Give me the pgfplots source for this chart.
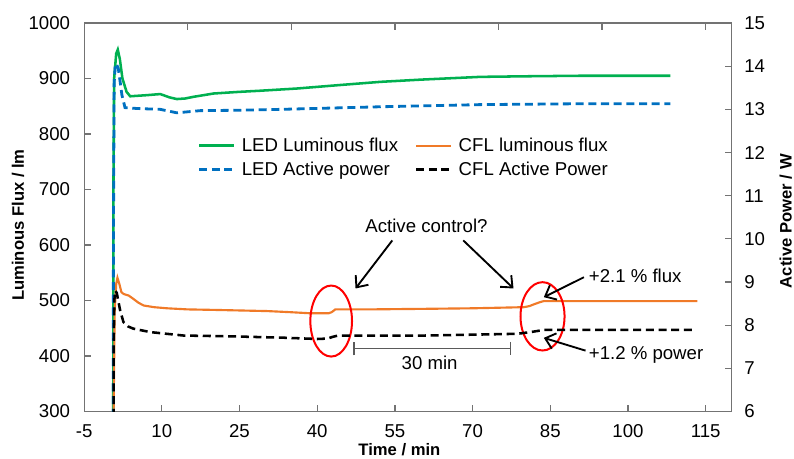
\documentclass[border=0pt]{standalone}
\usepackage{fontspec}
\setmainfont{Liberation Sans}
\usepackage{pgfplots}
\pgfplotsset{compat=1.18}
\usetikzlibrary{arrows.meta}

\definecolor{ledgreen}{RGB}{0,176,80}
\definecolor{ledblue}{RGB}{0,112,192}
\definecolor{cflorange}{RGB}{240,122,40}
\definecolor{axisgray}{RGB}{115,115,115}
\definecolor{barGray}{RGB}{90,90,90}

\tikzset{note arrow/.style={line width=1.4bp, -{Straight Barb[length=7bp,width=12bp]}}}

\pgfplotsset{
  every axis/.append style={
    scale only axis, width=485bp, height=291bp,
    xmin=-5, xmax=120,
    font=\fontsize{14}{16}\selectfont,
    /pgf/number format/assume math mode=true,
    /pgf/number format/1000 sep={},
    axis line style={axisgray, line width=0.9bp},
    tick style={axisgray, line width=0.9bp},
    major tick length=5bp,
    tick align=inside,
    label style={font=\fontsize{12.5}{15}\selectfont\bfseries},
  },
}

\begin{document}
\begin{tikzpicture}
\useasboundingbox (-63bp,-35.25bp) rectangle (531.75bp,308.25bp);

% luminous flux (left axis)
\begin{axis}[
  ymin=300, ymax=1000, ytick={300,400,...,1000},
  xtick={-5,10,...,115},
  xtick pos=left, ytick pos=left,
  yticklabel style={xshift=-7bp},
  xticklabel style={yshift=-6bp},
  xlabel={Time / min},
  ylabel={Luminous Flux / lm},
  xlabel style={at={(axis description cs:0.487,-0.098)}, anchor=center},
  ylabel style={at={(axis description cs:-0.102,0.48)}, anchor=center},
]
\addplot[ledgreen, line width=1.9bp] coordinates {
  (0.6,0) (0.66,700) (0.8,900) (1.2,945) (1.5,952) (1.9,935) (2.4,900)
  (3.2,876) (3.9,868) (5.5,869) (7.1,870) (9.7,872) (11.5,866) (12.9,863)
  (14.5,864) (16.1,867) (20,873) (25,876) (29,878) (36.1,882) (44,888)
  (52.2,894) (60,898) (71.5,903) (80,904) (90.8,905) (100,905) (108.2,905)
};
\addplot[cflorange, line width=1.6bp] coordinates {
  (0.6,0) (0.7,300) (0.9,480) (1.2,530) (1.44,541) (1.8,530) (2.2,515)
  (2.6,512) (3.2,510) (3.6,509) (4.5,503) (5.5,496) (6.5,491) (8.5,488)
  (11,486) (15,484) (20.6,483) (30.3,481) (34.8,479) (38.7,477) (42.2,477)
  (42.8,479) (43.5,484) (50,484) (60.6,485) (70,486) (79.9,488) (81.0,490)
  (81.8,493) (83,497) (83.75,499) (90,499) (100,499) (113.4,499)
};

% notes on the step changes
\draw[red, line width=1.5bp] (axis cs:42.7,463) ellipse [x radius=15.6bp, y radius=26.6bp];
\draw[red, line width=1.5bp] (axis cs:83.5,471.5) ellipse [x radius=16.5bp, y radius=25.6bp];
\node[font=\fontsize{14}{16}\selectfont] at (axis cs:61.1,635.4) {Active control?};
\draw[note arrow] (axis cs:54.5,608.3) -- (axis cs:47.4,521.7);
\draw[note arrow] (axis cs:68.2,608.3) -- (axis cs:77.9,521.7);
\draw[barGray, line width=1.1bp, {Bar[width=10bp]}-{Bar[width=10bp]}] (axis cs:47.0,413.4) -- (axis cs:77.5,413.4);
\node[font=\fontsize{14}{16}\selectfont] at (axis cs:61.7,388.1) {30 min};
\node[font=\fontsize{14}{16}\selectfont, anchor=west, inner sep=0pt] at (axis cs:92.4,545.1) {+2.1 \% flux};
\draw[note arrow] (axis cs:91.5,542) -- (axis cs:83.75,506);
\node[font=\fontsize{14}{16}\selectfont, anchor=west, inner sep=0pt] at (axis cs:92.4,402.5) {+1.2 \% power};
\draw[note arrow] (axis cs:91.8,409.7) -- (axis cs:83.75,432.7);
\end{axis}

% active power (right axis)
\begin{axis}[
  ymin=6, ymax=15, ytick={6,...,15},
  xtick={15,35,...,115}, xticklabels={},
  xtick pos=right, ytick pos=right, yticklabel pos=right,
  yticklabel style={xshift=6bp},
  ylabel={Active Power / W},
  ylabel style={at={(axis description cs:1.0835,0.49)}, anchor=center, rotate=0},
  legend columns=2,
  legend cell align=left,
  legend image code/.code={\draw[#1] (0bp,0bp) -- (26bp,0bp);},
  legend style={draw=none, fill=none, inner sep=0pt,
    at={(axis description cs:0.175,0.712)}, anchor=north west,
    font=\fontsize{14}{16}\selectfont, row sep=2.5bp,
    /tikz/every even column/.append style={column sep=10.5bp},
    /tikz/every odd column/.append style={column sep=3bp}},
]
\addlegendimage{ledgreen, line width=1.9bp}
\addlegendentry{LED Luminous flux}
\addlegendimage{cflorange, line width=1.6bp}
\addlegendentry{CFL luminous flux}
\addplot[ledblue, line width=2.1bp, dash pattern=on 6bp off 3.5bp] coordinates {
  (0.6,0) (0.66,10) (0.8,13.6) (1.0,14.0) (1.2,14.06) (1.6,13.95) (2.0,13.6)
  (2.3,13.33) (2.9,13.04) (5.2,13.02) (9.7,13.0) (12.9,12.92) (17.4,12.97)
  (25,12.98) (32.9,13.0) (52.2,13.06) (71.5,13.11) (90.8,13.13) (108.2,13.13)
};
\addlegendentry{LED Active power}
\addplot[black, line width=1.9bp, dash pattern=on 6bp off 3.5bp] coordinates {
  (0.6,0) (0.7,7.5) (0.85,8.6) (1.0,8.8) (1.3,8.75) (1.96,8.34) (2.6,8.07)
  (3.5,7.97) (4.5,7.92) (7.75,7.84) (14.2,7.76) (23.85,7.74) (33.5,7.71)
  (40,7.68) (42,7.69) (43,7.73) (44,7.76) (60.6,7.76) (70,7.78) (78.6,7.80)
  (81.2,7.84) (83.75,7.89) (100,7.89) (112.4,7.89)
};
\addlegendentry{CFL Active Power}
\end{axis}
\end{tikzpicture}
\end{document}
